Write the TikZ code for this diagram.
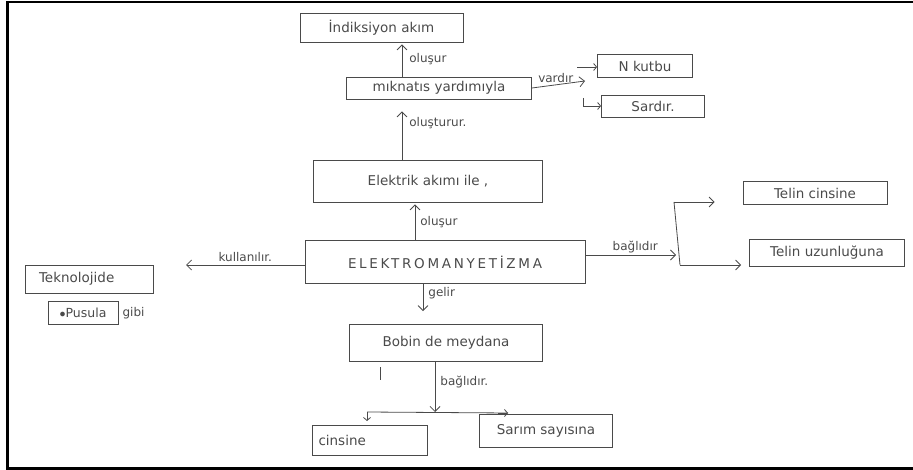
\documentclass[tikz,border=0pt]{standalone}
\usepackage{fontspec}
\setmainfont{DejaVu Sans}
\newfontfamily\spaced{DejaVu Sans}[LetterSpace=20]
\usetikzlibrary{arrows.meta}
\definecolor{pencil}{HTML}{4A4A4A}
\begin{document}
\begin{tikzpicture}[x=1pt,y=-1pt,
  every node/.style={text=pencil, font=\fontsize{13.5}{16}\selectfont},
  box/.style={draw=pencil, line width=0.8pt, inner sep=0pt},
  lbl/.style={font=\fontsize{12}{14}\selectfont, inner sep=1pt},
  conn/.style={draw=pencil, line width=0.8pt},
  arr/.style={conn, -{Straight Barb[length=5pt,width=10pt]}},
  small/.style={arr, -{Straight Barb[length=3pt,width=7pt]}},
]
\useasboundingbox (0,0) rectangle (913,470);

% page frame
\draw[line width=2.6pt] (7.3,470) -- (7.3,2) -- (913,2);
\draw[line width=2.6pt] (7.3,468.7) -- (913,468.7);

% concept boxes
\node[box, minimum width=163pt, minimum height=29pt] (ind) at (381.5,27.5) {İndiksiyon akım};
\node[box, minimum width=185pt, minimum height=22pt] (mik) at (439,88) {mıknatıs yardımıyla};
\node[box, minimum width=95pt, minimum height=23pt] (nk) at (645,66) {N kutbu};
\node[box, minimum width=103pt, minimum height=22pt] (sd) at (653,106) {Sardır.};
\node[box, minimum width=229pt, minimum height=42pt] (elk) at (428,181) {Elektrik akımı ile ,};
\node[box, minimum width=280pt, minimum height=43pt] (em) at (445,262) {\spaced ELEKTROMANYETİZMA};
\node[box, minimum width=128pt, minimum height=28pt] (tek) at (89,279) {\makebox[100pt][l]{Teknolojide}};
\node[box, minimum width=70pt, minimum height=23pt, font=\fontsize{12.5}{14}\selectfont] (pus) at (83,313) {$\bullet$Pusula};
\node[lbl, anchor=west] (gibi) at ([xshift=3pt]pus.east) {gibi};
\node[box, minimum width=193pt, minimum height=37pt] (bob) at (446,343) {Bobin de meydana};
\node[box, minimum width=115pt, minimum height=30pt] (cin) at (370,440) {\makebox[103pt][l]{cinsine}};
\node[box, minimum width=133pt, minimum height=33pt] (sar) at (546,431) {Sarım sayısına};
\node[box, minimum width=144pt, minimum height=23pt] (tc) at (815,193) {Telin cinsine};
\node[box, minimum width=155pt, minimum height=27pt] (tu) at (827,253) {Telin uzunluğuna};

% free ends of connectors
\coordinate (kl) at (186,265);
\coordinate (var) at (585,81);
\coordinate (bk) at (676,255);
\coordinate (br) at (435,412);
\coordinate (bl) at (367,421);
\coordinate (brr) at (508,413);

% upward chain
\draw[arr] ([xshift=-30pt]em.north) -- node[lbl, right=4pt] {oluşur} ([xshift=-13pt,yshift=-2pt]elk.south);
\draw[arr] ([xshift=-26pt]elk.north) -- node[lbl, right=6pt, pos=0.75] {oluşturur.} ([xshift=-37pt,yshift=-12pt]mik.south);
\draw[arr] ([xshift=-37pt]mik.north) -- node[lbl, right=6pt, pos=0.55] {oluşur} ([xshift=20.5pt,yshift=-2pt]ind.south);

% magnet poles
\draw[arr] (mik.east) -- node[lbl, above=1pt, pos=0.45] {vardır} (var);
\draw[small] ([xshift=-20pt,yshift=-1pt]nk.west) -- ([yshift=-1pt]nk.west);
\draw[small] ([xshift=-18pt,yshift=8pt]sd.west) |- (sd.west);

% uses
\draw[arr] ([yshift=-3pt]em.west) -- node[lbl, above=2pt] {kullanılır.} (kl);

% dependencies on the right
\draw[arr] ([yshift=7pt]em.east) -- node[lbl, above=1pt, pos=0.55] {bağlıdır} (bk);
\draw[conn] ([xshift=-2pt]bk |- 0,202) -- ([xshift=4pt]bk |- 0,265);
\draw[arr] ([xshift=-2pt]bk |- 0,202) -- ([xshift=-28pt,yshift=-9pt]tc.west);
\draw[arr] ([xshift=4pt]bk |- 0,265) -- ([xshift=-8pt,yshift=-12pt]tu.west);

% coil
\draw[arr] ([xshift=-22pt]em.south) -- node[lbl, right=4pt, pos=0.35] {gelir} ([xshift=-23pt,yshift=13pt]bob.north);
\draw[conn] (380,367) -- (380,380);
\draw[arr] ([xshift=-11pt]bob.south) -- node[lbl, right=4pt, pos=0.4] {bağlıdır.} (br);
\draw[conn] (bl |- br) -- (brr);
\draw[small] (bl |- br) -- (bl);
\draw[small] ([xshift=-10pt]brr) -- (brr);
\end{tikzpicture}
\end{document}
